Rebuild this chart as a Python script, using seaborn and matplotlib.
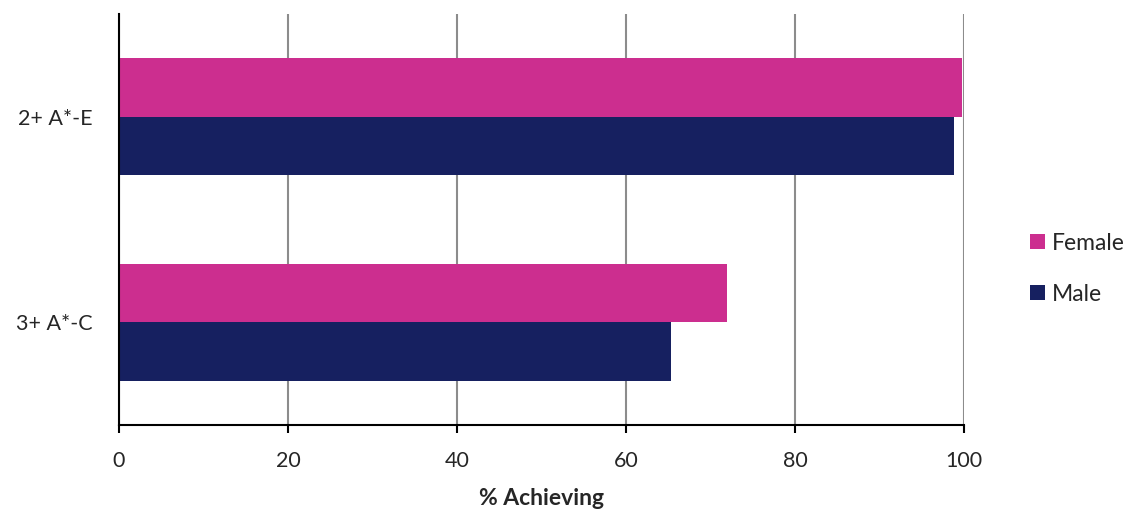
import pandas as pd
import matplotlib
matplotlib.use("Agg")
import matplotlib.pyplot as plt
import seaborn as sns

categories = ["2+ A*-E", "3+ A*-C"]
groups = ["Female", "Male"]
female_values = [99.8, 71.9]
male_values = [98.8, 65.3]
x_ticks = [0, 20, 40, 60, 80, 100]

colors = {"Female": "#CC2E8F", "Male": "#162060"}

df = pd.DataFrame(
    {
        "Category": categories * 2,
        "Group": ["Female"] * len(categories) + ["Male"] * len(categories),
        "Value": female_values + male_values,
    }
)

sns.set_style("white")
plt.rcParams["font.family"] = ["Lato", "DejaVu Sans"]

fig = plt.figure(figsize=(11.3, 5.11), dpi=100)
ax = fig.add_axes([0.1053, 0.1683, 0.7478, 0.8043])

sns.barplot(
    data=df,
    x="Value",
    y="Category",
    hue="Group",
    hue_order=groups,
    order=categories,
    palette=colors,
    width=0.57,
    linewidth=0,
    saturation=1,
    orient="h",
    ax=ax,
)

ax.set_xlim(0, 100)
ax.set_ylim(1.5, -0.5)
ax.set_xticks(x_ticks)
ax.set_xticklabels([str(t) for t in x_ticks], fontsize=15.5)
ax.tick_params(axis="x", length=6, width=1.5, color="black", direction="out", pad=13, bottom=True)
ax.tick_params(axis="y", length=0, pad=19, labelsize=15.5)
ax.grid(axis="x", color="#8C8C8C", linewidth=1.5)
ax.set_axisbelow(True)
ax.set_ylabel("")
ax.set_xlabel("% Achieving", fontsize=16.5, fontweight="bold", labelpad=12)

for side in ["top", "right"]:
    ax.spines[side].set_visible(False)
for side in ["left", "bottom"]:
    ax.spines[side].set_color("black")
    ax.spines[side].set_linewidth(1.5)

handles, labels = ax.get_legend_handles_labels()
ax.get_legend().remove()
fig.legend(
    handles,
    labels,
    loc="center left",
    bbox_to_anchor=(0.893, 0.474),
    frameon=False,
    fontsize=16.5,
    handlelength=0.65,
    handleheight=0.65,
    handletextpad=0.3,
    labelspacing=1.3,
)

fig.savefig("out.png", dpi=100)
